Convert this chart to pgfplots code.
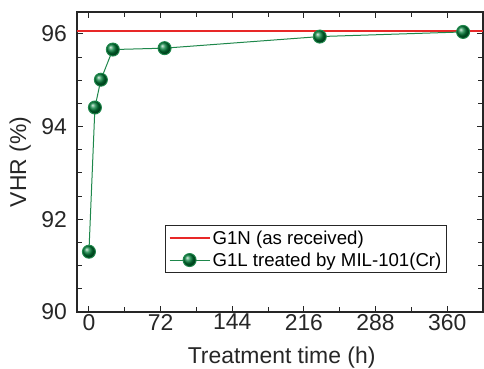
\documentclass[border=0pt]{standalone}
\usepackage{fontspec}
\setmainfont{Liberation Sans}
\usepackage{pgfplots}
\pgfplotsset{compat=1.18}
\definecolor{lred}{RGB}{232,40,40}
\definecolor{lgreen}{RGB}{30,135,75}
\definecolor{bgreen}{RGB}{0,125,55}
\begin{document}
\begin{tikzpicture}
\begin{axis}[
  scale only axis,
  width=406bp, height=300bp,
  xmin=-12, xmax=396, ymin=90, ymax=96.47,
  xtick={0,72,144,216,288,360}, minor x tick num=1,
  ytick={90,92,94,96}, minor y tick num=3,
  tick align=inside, major tick length=6bp, minor tick length=5bp,
  axis line style={line width=1.1bp, black!85},
  every tick/.style={line width=0.9bp, black!85},
  /pgf/number format/assume math mode=true,
  tick label style={font=\fontsize{23}{27}\selectfont, text=black!85},
  xticklabel style={inner sep=1pt, yshift=-1bp},
  yticklabel style={inner sep=1pt, xshift=-9bp},
  label style={font=\fontsize{23}{27}\selectfont, text=black!85},
  xlabel={Treatment time (h)},
  ylabel={VHR (\%)},
  xlabel style={at={(axis description cs:0.504,-0.153)}, anchor=center},
  ylabel style={at={(axis description cs:-0.140,0.5)}, anchor=center, rotate=0},
  legend style={at={(0.911,0.13)}, anchor=south east, draw=black!85, line width=0.9bp,
    font=\fontsize{18.7}{22}\selectfont, inner xsep=3bp, inner ysep=3bp, row sep=3bp,
    cells={anchor=west}},
  legend image code/.code={\draw[mark repeat=2,mark phase=2,#1] plot coordinates {(0bp,0bp) (20bp,0bp) (40bp,0bp)};},
]
\addplot[lred, line width=2bp] coordinates {(-12,96.07) (396,96.07)};
\addlegendentry{G1N (as received)}
\addplot[lgreen, line width=1bp, mark=ball, mark size=6.5bp, mark options={ball color=bgreen}] coordinates {
(0,91.3) (6,94.41) (12,95.01) (24,95.66) (76,95.69) (232,95.94) (376,96.04)};
\addlegendentry{G1L treated by MIL-101(Cr)}
\end{axis}
\pgfresetboundingbox
\useasboundingbox (-77bp,-57bp) rectangle (407bp,312bp);
\end{tikzpicture}
\end{document}
